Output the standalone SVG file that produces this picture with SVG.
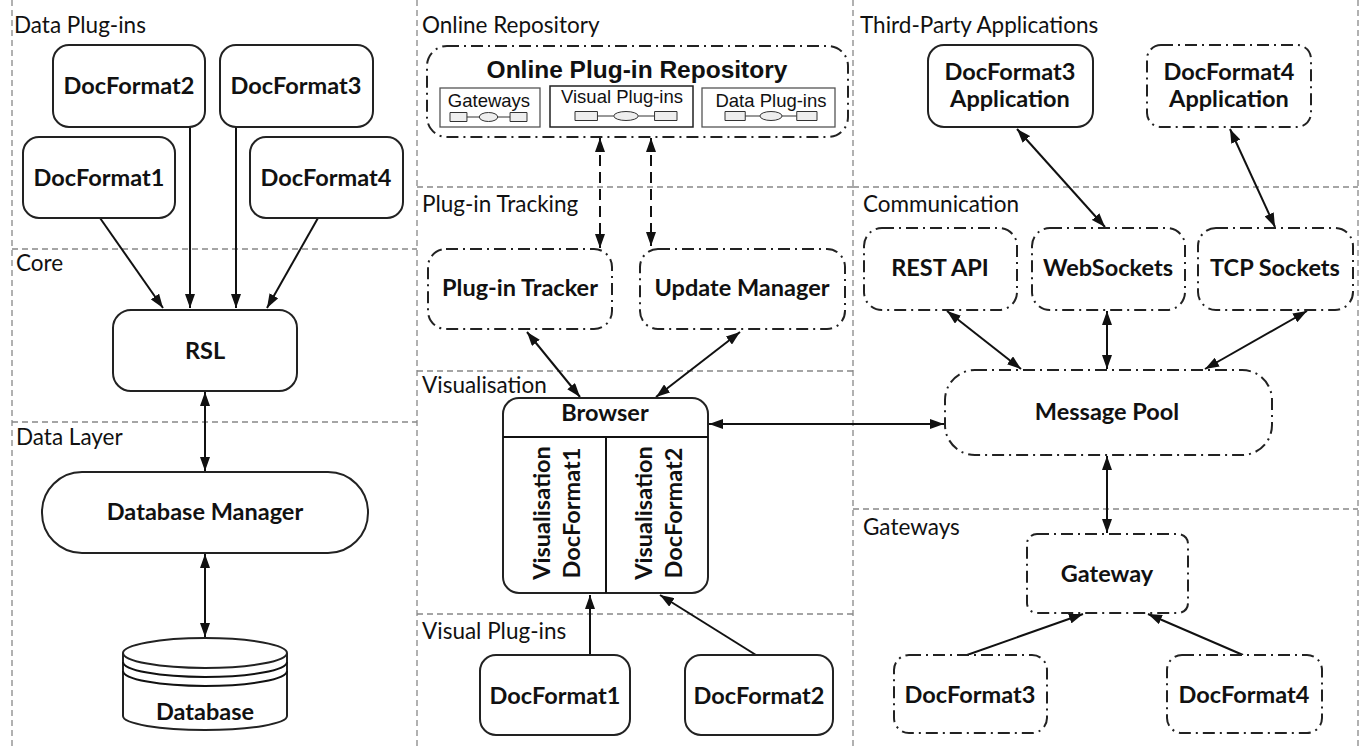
<svg xmlns="http://www.w3.org/2000/svg" width="1366" height="747" viewBox="0 0 1366 747">
  <style>
    .sec { font-family: Lato, "Open Sans", sans-serif; font-size: 22.5px; fill: #111; }
    .lbl { font-family: Lato, "Open Sans", sans-serif; font-weight: bold; font-size: 23.5px; fill: #111; text-anchor: middle; }
    .hv { font-family: "Liberation Sans", Arial, sans-serif; fill: #111; text-anchor: middle; }
    .solid { fill: #fff; stroke: #222; stroke-width: 2; }
    .dd { fill: #fff; stroke: #222; stroke-width: 2; stroke-dasharray: 12 5 2 5; }
    .div { fill: none; stroke: #888; stroke-width: 1.3; stroke-dasharray: 6 4; }
    .conn { fill: none; stroke: #111; stroke-width: 2; }
    .dash { stroke-dasharray: 11 6; }
    .sub { fill: #fff; stroke: #555; stroke-width: 1.3; }
  </style>
  <defs>
    <marker id="arr" viewBox="0 0 14 10" refX="14" refY="5" markerWidth="14" markerHeight="10" markerUnits="userSpaceOnUse" orient="auto-start-reverse">
      <path d="M0,0 L14,5 L0,10 z" fill="#111"/>
    </marker>
    <!-- small component glyph: box - link - capsule - link - box -->
    <g id="ico" fill="#eee" stroke="#333" stroke-width="1">
      <rect x="0" y="-4.5" width="22" height="9" vector-effect="non-scaling-stroke"/>
      <line x1="22" y1="0" x2="38" y2="0" vector-effect="non-scaling-stroke"/>
      <ellipse cx="50" cy="0" rx="12" ry="4.5" vector-effect="non-scaling-stroke"/>
      <line x1="62" y1="0" x2="78" y2="0" vector-effect="non-scaling-stroke"/>
      <rect x="78" y="-4.5" width="22" height="9" vector-effect="non-scaling-stroke"/>
    </g>
  </defs>

  <rect width="1366" height="747" fill="#fff"/>

  <!-- layer dividers -->
  <g id="dividers">
    <line class="div" x1="12" y1="0" x2="12" y2="747"/>
    <line class="div" x1="417" y1="0" x2="417" y2="747"/>
    <line class="div" x1="853" y1="0" x2="853" y2="747"/>
    <line class="div" x1="1358" y1="0" x2="1358" y2="747"/>
    <line class="div" x1="12" y1="249" x2="417" y2="249"/>
    <line class="div" x1="12" y1="422" x2="417" y2="422"/>
    <line class="div" x1="417" y1="187" x2="853" y2="187"/>
    <line class="div" x1="417" y1="371" x2="853" y2="371"/>
    <line class="div" x1="417" y1="614" x2="853" y2="614"/>
    <line class="div" x1="853" y1="187" x2="1358" y2="187"/>
    <line class="div" x1="853" y1="509" x2="1358" y2="509"/>
  </g>

  <!-- layer titles -->
  <g id="layer-titles">
    <text class="sec" x="14" y="33">Data Plug-ins</text>
    <text class="sec" x="16" y="271">Core</text>
    <text class="sec" x="16" y="445">Data Layer</text>
    <text class="sec" x="422" y="33">Online Repository</text>
    <text class="sec" x="422" y="212">Plug-in Tracking</text>
    <text class="sec" x="422" y="393">Visualisation</text>
    <text class="sec" x="422" y="639">Visual Plug-ins</text>
    <text class="sec" x="860" y="33">Third-Party Applications</text>
    <text class="sec" x="863" y="212">Communication</text>
    <text class="sec" x="863" y="535">Gateways</text>
  </g>

  <!-- connectors -->
  <g id="connectors">
    <path class="conn" d="M100,218 L163,308" marker-end="url(#arr)"/>
    <path class="conn" d="M190,127 L190,308" marker-end="url(#arr)"/>
    <path class="conn" d="M236,127 L236,308" marker-end="url(#arr)"/>
    <path class="conn" d="M318,218 L267,308" marker-end="url(#arr)"/>
    <path class="conn" d="M205,392 L205,471" marker-start="url(#arr)" marker-end="url(#arr)"/>
    <path class="conn" d="M205,554 L205,637" marker-start="url(#arr)" marker-end="url(#arr)"/>

    <path class="conn dash" d="M600,138 L600,248" marker-start="url(#arr)" marker-end="url(#arr)"/>
    <path class="conn dash" d="M651,138 L651,246" marker-start="url(#arr)" marker-end="url(#arr)"/>
    <path class="conn" d="M527,332 L580,397" marker-start="url(#arr)" marker-end="url(#arr)"/>
    <path class="conn" d="M740,332 L656,397" marker-start="url(#arr)" marker-end="url(#arr)"/>
    <path class="conn" d="M590,655 L590,595" marker-end="url(#arr)"/>
    <path class="conn" d="M756,655 L660,595" marker-end="url(#arr)"/>
    <path class="conn" d="M709,424 L944,424" marker-start="url(#arr)" marker-end="url(#arr)"/>

    <path class="conn" d="M1017,129 L1105,227" marker-start="url(#arr)" marker-end="url(#arr)"/>
    <path class="conn" d="M1230,129 L1275,227" marker-start="url(#arr)" marker-end="url(#arr)"/>
    <path class="conn" d="M947,311 L1021,369" marker-start="url(#arr)" marker-end="url(#arr)"/>
    <path class="conn" d="M1107,311 L1107,369" marker-start="url(#arr)" marker-end="url(#arr)"/>
    <path class="conn" d="M1307,311 L1205,369" marker-start="url(#arr)" marker-end="url(#arr)"/>
    <path class="conn" d="M1107,456 L1107,533" marker-start="url(#arr)" marker-end="url(#arr)"/>
    <path class="conn" d="M967,655 L1083,614" marker-end="url(#arr)"/>
    <path class="conn" d="M1243,655 L1148,614" marker-end="url(#arr)"/>
  </g>

  <!-- data plug-ins -->
  <g id="dp-docformat2">
    <rect class="solid" x="53" y="45" width="152" height="82" rx="16"/>
    <text class="lbl" x="129" y="94">DocFormat2</text>
  </g>
  <g id="dp-docformat3">
    <rect class="solid" x="220" y="45" width="153" height="82" rx="16"/>
    <text class="lbl" x="296" y="94">DocFormat3</text>
  </g>
  <g id="dp-docformat1">
    <rect class="solid" x="23" y="137" width="152" height="81" rx="16"/>
    <text class="lbl" x="99" y="186">DocFormat1</text>
  </g>
  <g id="dp-docformat4">
    <rect class="solid" x="250" y="137" width="153" height="81" rx="16"/>
    <text class="lbl" x="326" y="186">DocFormat4</text>
  </g>

  <!-- core / data layer -->
  <g id="rsl">
    <rect class="solid" x="113" y="310" width="184" height="81" rx="18"/>
    <text class="lbl" x="205" y="359">RSL</text>
  </g>
  <g id="database-manager">
    <rect class="solid" x="42" y="472" width="326" height="81" rx="40"/>
    <text class="lbl" x="205" y="520">Database Manager</text>
  </g>
  <g id="database">
    <path class="solid" d="M123,653 L123,716 A82,14 0 0 0 287,716 L287,653"/>
    <ellipse class="solid" cx="205" cy="653" rx="82" ry="15"/>
    <path class="conn" d="M123,662 A82,15 0 0 0 287,662"/>
    <path class="conn" d="M123,671 A82,15 0 0 0 287,671"/>
    <text class="lbl" x="205" y="720">Database</text>
  </g>

  <!-- online repository -->
  <g id="online-repository">
    <rect class="dd" x="427" y="46" width="421" height="91" rx="20"/>
    <text class="hv" x="637" y="78" font-size="24.5" font-weight="bold">Online Plug-in Repository</text>
    <rect class="sub" x="440" y="88" width="100" height="39"/>
    <text class="hv" x="489" y="107" font-size="18.5">Gateways</text>
    <use href="#ico" transform="translate(450,117) scale(0.77,1)"/>
    <rect class="solid" x="550" y="86" width="143" height="41" style="stroke-width:1.5"/>
    <text class="hv" x="622" y="103" font-size="18.5">Visual Plug-ins</text>
    <use href="#ico" transform="translate(575,116) scale(1.02,1)"/>
    <rect class="sub" x="702" y="88" width="133" height="39"/>
    <text class="hv" x="771" y="107" font-size="18.5">Data Plug-ins</text>
    <use href="#ico" transform="translate(725,116) scale(0.92,1)"/>
  </g>

  <!-- plug-in tracking -->
  <g id="plugin-tracker">
    <rect class="dd" x="428" y="249" width="184" height="80" rx="18"/>
    <text class="lbl" x="520" y="296">Plug-in Tracker</text>
  </g>
  <g id="update-manager">
    <rect class="dd" x="640" y="249" width="205" height="80" rx="18"/>
    <text class="lbl" x="742" y="296">Update Manager</text>
  </g>

  <!-- visualisation -->
  <g id="browser">
    <rect class="solid" x="503" y="398" width="205" height="195" rx="16"/>
    <line class="conn" x1="503" y1="437" x2="708" y2="437"/>
    <line class="conn" x1="606" y1="437" x2="606" y2="593"/>
    <text class="lbl" x="605" y="421">Browser</text>
    <text class="lbl" transform="translate(550,513) rotate(-90)">Visualisation</text>
    <text class="lbl" transform="translate(580,513) rotate(-90)">DocFormat1</text>
    <text class="lbl" transform="translate(652,513) rotate(-90)">Visualisation</text>
    <text class="lbl" transform="translate(682,513) rotate(-90)">DocFormat2</text>
  </g>

  <!-- visual plug-ins -->
  <g id="vp-docformat1">
    <rect class="solid" x="480" y="655" width="150" height="80" rx="16"/>
    <text class="lbl" x="555" y="704">DocFormat1</text>
  </g>
  <g id="vp-docformat2">
    <rect class="solid" x="685" y="655" width="148" height="80" rx="16"/>
    <text class="lbl" x="759" y="704">DocFormat2</text>
  </g>

  <!-- third-party applications -->
  <g id="app-docformat3">
    <rect class="solid" x="928" y="45" width="165" height="82" rx="16"/>
    <text class="lbl" x="1010" y="80">DocFormat3</text>
    <text class="lbl" x="1010" y="107">Application</text>
  </g>
  <g id="app-docformat4">
    <rect class="dd" x="1147" y="45" width="164" height="82" rx="14"/>
    <text class="lbl" x="1229" y="80">DocFormat4</text>
    <text class="lbl" x="1229" y="107">Application</text>
  </g>

  <!-- communication -->
  <g id="rest-api">
    <rect class="dd" x="864" y="228" width="153" height="82" rx="18"/>
    <text class="lbl" x="940" y="276">REST API</text>
  </g>
  <g id="websockets">
    <rect class="dd" x="1032" y="228" width="153" height="82" rx="18"/>
    <text class="lbl" x="1108" y="276">WebSockets</text>
  </g>
  <g id="tcp-sockets">
    <rect class="dd" x="1198" y="228" width="155" height="82" rx="18"/>
    <text class="lbl" x="1275" y="276">TCP Sockets</text>
  </g>
  <g id="message-pool">
    <rect class="dd" x="945" y="370" width="327" height="85" rx="30"/>
    <text class="lbl" x="1107" y="420">Message Pool</text>
  </g>

  <!-- gateways -->
  <g id="gateway">
    <rect class="dd" x="1027" y="534" width="161" height="79" rx="10"/>
    <text class="lbl" x="1107" y="582">Gateway</text>
  </g>
  <g id="gw-docformat3">
    <rect class="dd" x="894" y="655" width="153" height="78" rx="15"/>
    <text class="lbl" x="970" y="703">DocFormat3</text>
  </g>
  <g id="gw-docformat4">
    <rect class="dd" x="1167" y="655" width="155" height="78" rx="15"/>
    <text class="lbl" x="1244" y="703">DocFormat4</text>
  </g>
</svg>
